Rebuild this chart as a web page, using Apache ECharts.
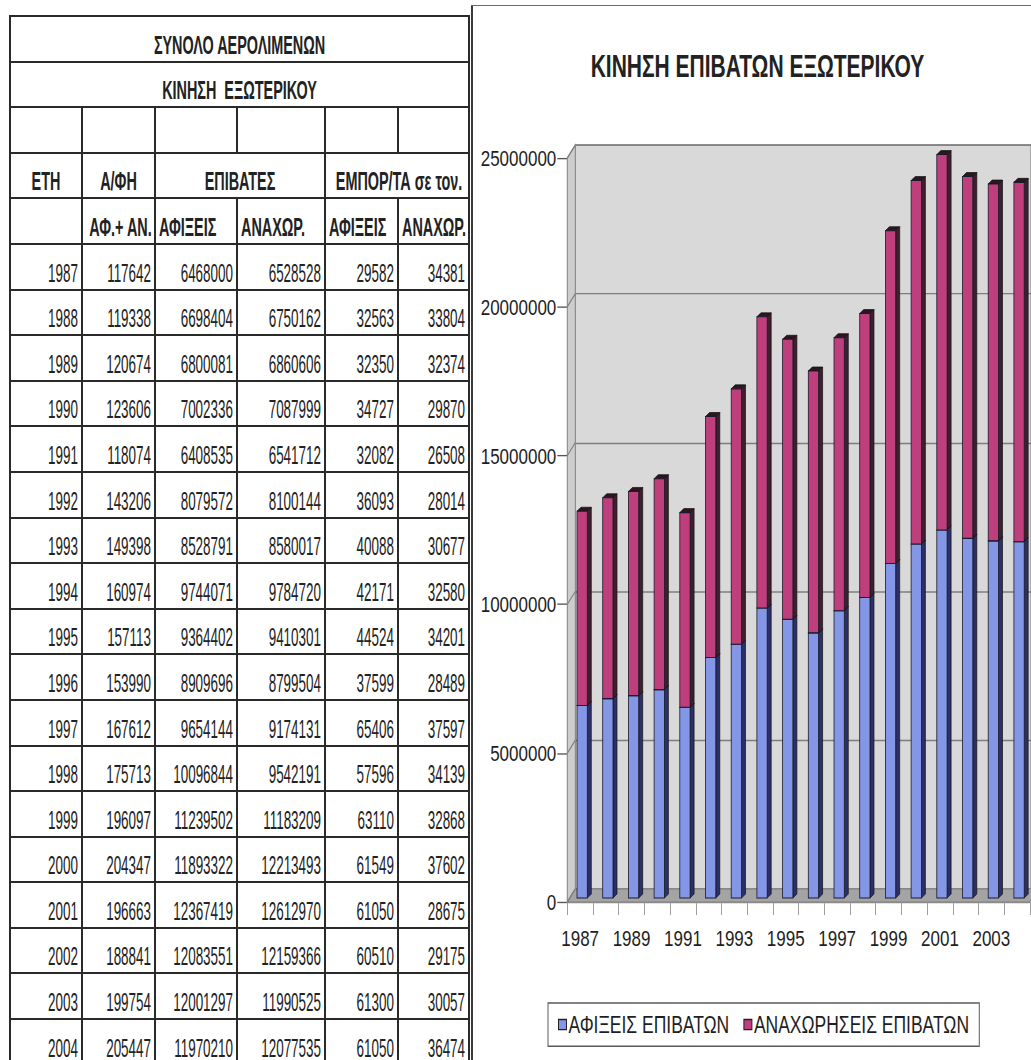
<!DOCTYPE html>
<html>
<head>
<meta charset="utf-8">
<script src="https://cdn.jsdelivr.net/npm/echarts@6/dist/echarts.min.js"></script>
<style>
  html, body { margin: 0; padding: 0; background: #fff; }
  body { width: 1031px; height: 1060px; position: relative; overflow: hidden; }
  #tbl {
    position: absolute; left: 9px; top: 15px;
    border-collapse: collapse; table-layout: fixed; width: 459px;
    color: #222;
  }
  #tbl td {
    border: 2px solid #2a2a2a; padding: 0 3px 5px 3px;
    vertical-align: bottom; overflow: visible; white-space: pre;
  }
  #tbl tr { height: 45.6px; }
  #tbl span { display: block; line-height: 12px; font-family: 'Liberation Sans', Arial, sans-serif; font-size: 16px; }
  #tbl span.h { font-weight: 700; transform: scale(0.9, 1.56); }
  #tbl span.d { font-weight: 400; transform: scale(0.84, 1.65); text-align: right; transform-origin: right bottom; }
  #tbl span.c { text-align: center; transform-origin: center bottom; }
  #tbl span.l { text-align: left; transform-origin: left bottom; }
  #frameV { position: absolute; left: 471px; top: 5px; width: 2px; height: 1055px; background: #3a3a3a; }
  #frameH { position: absolute; left: 471px; top: 5px; width: 560px; height: 1px; background: #6a6a6a; }
  /* the chart is laid out on a shorter canvas and stretched to full height */
  #chart { position: absolute; left: 473px; top: 0; width: 558px; height: 785.185px;
           transform: scaleY(1.35); transform-origin: 0 0; }
</style>
</head>
<body>
<table id="tbl"></table>
<div id="frameV"></div>
<div id="frameH"></div>
<div id="chart"></div>
<script>
// International traffic, all airports
const years = ['1987','1988','1989','1990','1991','1992','1993','1994','1995','1996','1997','1998','1999','2000','2001','2002','2003','2004'];
const aircraft = [117642,119338,120674,123606,118074,143206,149398,160974,157113,153990,167612,175713,196097,204347,196663,188841,199754,205447];
const paxArrivals = [6468000,6698404,6800081,7002336,6408535,8079572,8528791,9744071,9364402,8909696,9654144,10096844,11239502,11893322,12367419,12083551,12001297,11970210];
const paxDepartures = [6528528,6750162,6860606,7087999,6541712,8100144,8580017,9784720,9410301,8799504,9174131,9542191,11183209,12213493,12612970,12159366,11990525,12077535];
const cargoArrivals = [29582,32563,32350,34727,32082,36093,40088,42171,44524,37599,65406,57596,63110,61549,61050,60510,61300,61050];
const cargoDepartures = [34381,33804,32374,29870,26508,28014,30677,32580,34201,28489,37597,34139,32868,37602,28675,29175,30057,36474];

// Table headings
const tableTitle = 'ΣΥΝΟΛΟ ΑΕΡΟΛΙΜΕΝΩΝ';
const tableSubtitle = 'ΚΙΝΗΣΗ  ΕΞΩΤΕΡΙΚΟΥ';
const groupHeads = ['ΕΤΗ', 'Α/ΦΗ', 'ΕΠΙΒΑΤΕΣ', 'ΕΜΠΟΡ/ΤΑ σε τον.'];
const subHeads = ['', 'ΑΦ.+ ΑΝ.', 'ΑΦΙΞΕΙΣ', 'ΑΝΑΧΩΡ.', 'ΑΦΙΞΕΙΣ', 'ΑΝΑΧΩΡ.'];

// Chart texts
const chartTitle = 'ΚΙΝΗΣΗ ΕΠΙΒΑΤΩΝ ΕΞΩΤΕΡΙΚΟΥ';
const seriesNames = ['ΑΦΙΞΕΙΣ ΕΠΙΒΑΤΩΝ', 'ΑΝΑΧΩΡΗΣΕΙΣ ΕΠΙΒΑΤΩΝ'];
const yMax = 25000000;
const yStep = 5000000;

// ---------- table ----------
(function buildTable() {
  const tbl = document.getElementById('tbl');
  const colWidths = [72, 73, 82, 88, 73, 71];
  const cg = document.createElement('colgroup');
  colWidths.forEach(w => { const c = document.createElement('col'); c.style.width = w + 'px'; cg.appendChild(c); });
  tbl.appendChild(cg);

  function row(cells) {
    const tr = document.createElement('tr');
    cells.forEach(([text, cls, span]) => {
      const td = document.createElement('td');
      if (span) td.colSpan = span;
      const s = document.createElement('span');
      s.className = cls;
      s.textContent = text;
      td.appendChild(s);
      tr.appendChild(td);
    });
    tbl.appendChild(tr);
  }
  row([[tableTitle, 'h c', 6]]);
  row([[tableSubtitle, 'h c', 6]]);
  row([['', 'h c'], ['', 'h c'], ['', 'h c'], ['', 'h c'], ['', 'h c'], ['', 'h c']]);
  row([[groupHeads[0], 'h c'], [groupHeads[1], 'h c'], [groupHeads[2], 'h c', 2], [groupHeads[3], 'h c', 2]]);
  row(subHeads.map((t, i) => [t, i <= 1 ? 'h c' : 'h l']));
  years.forEach((y, i) => {
    row([y, aircraft[i], paxArrivals[i], paxDepartures[i], cargoArrivals[i], cargoDepartures[i]]
      .map(v => [String(v), 'd']));
  });
})();

// ---------- chart ----------
const FONT = "'Liberation Sans', Arial, sans-serif";
const BLUE = ['#8497e6', '#2c3068', '#1f2247'];
const PINK = ['#bf3f7c', '#3e1f2e', '#2c1620'];
const S = 1.35; // vertical stretch applied to the chart element

// front plane of the plot and the depth of the 3-D box (chart units)
const GL = 94.3, GT = 158 / S, GW = 462.6, GH = 744 / S;
const DX = 8, DY = 13 / S;
// bar offset inside the depth, and bar extrusion
const SX = 2, SY = -4 / S, BDX = 4, BDY = 4 / S;

function bar3d(colors) {
  return function (params, api) {
    const i = api.value(0);
    const p0 = api.coord([i, api.value(1)]);
    const p1 = api.coord([i, api.value(2)]);
    const bw = api.size([1, 0])[0] * 0.4;
    const x = p0[0] + SX - bw / 2;
    const y0 = p0[1] + SY, y1 = p1[1] + SY;
    return {
      type: 'group',
      children: [
        { type: 'polygon', shape: { points: [[x + bw, y1], [x + bw + BDX, y1 - BDY], [x + bw + BDX, y0 - BDY], [x + bw, y0]] },
          style: { fill: colors[1], stroke: '#111', lineWidth: 0.6 } },
        { type: 'polygon', shape: { points: [[x, y1], [x + BDX, y1 - BDY], [x + bw + BDX, y1 - BDY], [x + bw, y1]] },
          style: { fill: colors[2], stroke: '#111', lineWidth: 0.6 } },
        { type: 'rect', shape: { x: x, y: y1, width: bw, height: y0 - y1 },
          style: { fill: colors[0], stroke: '#1a1a2a', lineWidth: 0.8 } }
      ]
    };
  };
}

const chart = echarts.init(document.getElementById('chart'), null, { renderer: 'svg' });

const option = {
  animation: false,
  backgroundColor: 'transparent',
  grid: [
    { left: GL, top: GT, width: GW, height: GH },
    { left: GL + DX, top: GT - DY, width: GW, height: GH, show: true,
      backgroundColor: '#d9d9d9', borderColor: '#7c7c7c', borderWidth: 1, z: 0 }
  ],
  xAxis: [
    { gridIndex: 0, type: 'category', data: years, boundaryGap: true,
      axisLine: { show: true, lineStyle: { color: '#8a8a8a', width: 1 } },
      axisTick: { show: true, interval: 0, length: 13 / S, lineStyle: { color: '#a0a0a0' } },
      axisLabel: { interval: 1, margin: 18, fontSize: 17, fontFamily: FONT, color: '#1e1e1e' },
      splitLine: { show: false } },
    { gridIndex: 1, type: 'category', data: years, show: false }
  ],
  yAxis: [
    { gridIndex: 0, type: 'value', min: 0, max: yMax, interval: yStep,
      axisLine: { show: true, lineStyle: { color: '#8a8a8a' } },
      axisTick: { show: true, length: 10, lineStyle: { color: '#555' } },
      axisLabel: { margin: 11, fontSize: 17, fontFamily: FONT, color: '#1e1e1e',
        formatter: v => String(v) },
      splitLine: { show: false } },
    { gridIndex: 1, type: 'value', min: 0, max: yMax, interval: yStep,
      axisLine: { show: false }, axisTick: { show: false }, axisLabel: { show: false },
      splitLine: { show: true, lineStyle: { color: '#7e7e7e', width: 1 } } }
  ],
  legend: {
    left: 75, top: 1003 / S, orient: 'horizontal',
    data: seriesNames,
    icon: 'rect', itemWidth: 8, itemHeight: 7.5, itemGap: 14,
    borderColor: '#5a5a5a', borderWidth: 1, padding: [7, 10, 7, 10],
    itemStyle: { borderColor: '#222', borderWidth: 1 },
    textStyle: { fontSize: 17.5, fontFamily: FONT, color: '#1e1e1e', padding: [0, 0, 0, -3] }
  },
  series: [
    { type: 'custom', name: seriesNames[0], xAxisIndex: 0, yAxisIndex: 0, z: 3,
      itemStyle: { color: BLUE[0] },
      renderItem: bar3d(BLUE),
      encode: { x: 0, y: [1, 2] },
      data: years.map((y, i) => [i, 0, paxArrivals[i]]) },
    { type: 'custom', name: seriesNames[1], xAxisIndex: 0, yAxisIndex: 0, z: 3,
      itemStyle: { color: PINK[0] },
      renderItem: bar3d(PINK),
      encode: { x: 0, y: [1, 2] },
      data: years.map((y, i) => [i, paxArrivals[i], paxArrivals[i] + paxDepartures[i]]) }
  ]
};
chart.setOption(option);

// side wall, floor and side-wall gridlines, placed with the axis scale
const yTop = chart.convertToPixel({ yAxisIndex: 0 }, yMax);
const yBot = chart.convertToPixel({ yAxisIndex: 0 }, 0);
const xLeft = GL, xRight = GL + GW;
const wallLines = [];
for (let v = 0; v <= yMax; v += yStep) {
  const y = chart.convertToPixel({ yAxisIndex: 0 }, v);
  wallLines.push({ type: 'line', z: 1, shape: { x1: xLeft, y1: y, x2: xLeft + DX, y2: y - DY },
    style: { stroke: '#7e7e7e', lineWidth: 1 } });
}
chart.setOption({
  graphic: [
    { type: 'polygon', z: 1,
      shape: { points: [[xLeft, yTop], [xLeft + DX, yTop - DY], [xLeft + DX, yBot - DY], [xLeft, yBot]] },
      style: { fill: '#cdcdcd', stroke: '#8a8a8a', lineWidth: 1 } },
    { type: 'polygon', z: 1,
      shape: { points: [[xLeft, yBot], [xLeft + DX, yBot - DY], [xRight + DX, yBot - DY], [xRight, yBot]] },
      style: { fill: '#a4a4a4', stroke: '#8a8a8a', lineWidth: 1 } },
    ...wallLines,
    { type: 'text', z: 5, x: 284.5, y: 66 / S, scaleY: 1.13,
      style: { text: chartTitle, font: 'bold 21px ' + FONT, fill: '#222',
        textAlign: 'center', textVerticalAlign: 'middle', align: 'center', verticalAlign: 'middle' } }
  ]
});
</script>
</body>
</html>
